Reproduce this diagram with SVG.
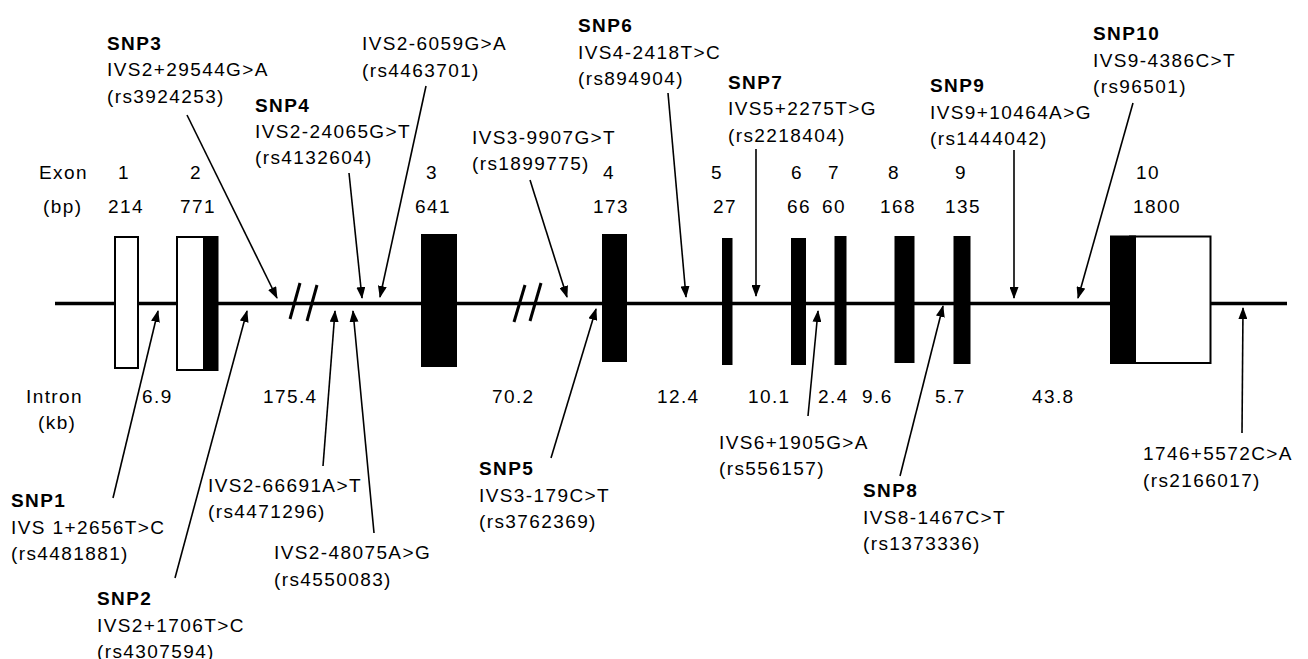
<svg xmlns="http://www.w3.org/2000/svg" width="1308" height="659" viewBox="0 0 1308 659">
<style>
text{font-family:"Liberation Sans",Arial,Helvetica,sans-serif;font-size:19px;letter-spacing:1.4px;fill:#000}
.b{font-weight:bold}
.m{text-anchor:middle}
.blk{fill:#000}
.wht{fill:#fff;stroke:#000;stroke-width:2}
.arr{stroke:#000;stroke-width:1.6;fill:none;marker-end:url(#ah)}
.brk{stroke:#000;stroke-width:3}
</style>
<defs>
<marker id="ah" viewBox="0 0 12 9" refX="11" refY="4.5" markerWidth="12" markerHeight="9" markerUnits="userSpaceOnUse" orient="auto">
<path d="M0,0 L12,4.5 L0,9 z" fill="#000"/>
</marker>
</defs>
<rect width="1308" height="659" fill="#fff"/>

<g id="gene-line">
<line x1="55" y1="303.5" x2="1287" y2="303.5" stroke="#000" stroke-width="3.5"/>
<line class="brk" x1="300" y1="283" x2="290" y2="319"/>
<line class="brk" x1="317" y1="285" x2="307" y2="321"/>
<line class="brk" x1="525" y1="285" x2="514" y2="322"/>
<line class="brk" x1="541" y1="283" x2="530" y2="321"/>
</g>

<g id="exon1"><rect class="wht" x="115" y="237" width="23" height="131"/></g>
<g id="exon2"><rect class="wht" x="177" y="237" width="27" height="133"/><rect class="blk" x="203" y="236" width="15.5" height="135"/></g>
<g id="exon3"><rect class="blk" x="421" y="234" width="36" height="133"/></g>
<g id="exon4"><rect class="blk" x="602" y="234" width="25" height="128"/></g>
<g id="exon5"><rect class="blk" x="722" y="238" width="10.5" height="127"/></g>
<g id="exon6"><rect class="blk" x="791" y="238" width="15" height="127"/></g>
<g id="exon7"><rect class="blk" x="834.5" y="236" width="12" height="129"/></g>
<g id="exon8"><rect class="blk" x="894.5" y="236" width="20" height="127"/></g>
<g id="exon9"><rect class="blk" x="953.5" y="236" width="17" height="128"/></g>
<g id="exon10"><rect class="wht" x="1130" y="236.5" width="80.5" height="126.5"/><rect class="blk" x="1110" y="235.5" width="26" height="128.5"/></g>

<g id="connectors">
<line class="arr" x1="187" y1="115" x2="277" y2="298"/>
<line class="arr" x1="349" y1="173" x2="362" y2="298"/>
<line class="arr" x1="426" y1="86" x2="380" y2="297"/>
<line class="arr" x1="530" y1="180" x2="567" y2="297"/>
<line class="arr" x1="668" y1="93" x2="686" y2="297"/>
<line class="arr" x1="756" y1="149" x2="756" y2="296"/>
<line class="arr" x1="1014" y1="150" x2="1014" y2="298"/>
<line class="arr" x1="1133" y1="103" x2="1078" y2="298"/>
<line class="arr" x1="113" y1="498" x2="158" y2="311"/>
<line class="arr" x1="175" y1="578" x2="247" y2="311"/>
<line class="arr" x1="323" y1="466" x2="335" y2="311"/>
<line class="arr" x1="374" y1="533" x2="353" y2="311"/>
<line class="arr" x1="551" y1="458" x2="596" y2="309"/>
<line class="arr" x1="808" y1="416" x2="818" y2="311"/>
<line class="arr" x1="900" y1="476" x2="943" y2="306"/>
<line class="arr" x1="1242" y1="433" x2="1243" y2="308"/>
</g>

<g id="exon-labels">
<text x="39" y="179">Exon</text>
<text class="m" x="124" y="179">1</text>
<text class="m" x="196" y="179">2</text>
<text class="m" x="432" y="179">3</text>
<text class="m" x="609" y="179">4</text>
<text class="m" x="717" y="179">5</text>
<text class="m" x="797" y="179">6</text>
<text class="m" x="834" y="179">7</text>
<text class="m" x="894" y="179">8</text>
<text class="m" x="961" y="179">9</text>
<text class="m" x="1148" y="179">10</text>
<text x="43" y="213">(bp)</text>
<text class="m" x="126" y="213">214</text>
<text class="m" x="198" y="213">771</text>
<text class="m" x="433" y="213">641</text>
<text class="m" x="611" y="213">173</text>
<text class="m" x="725" y="213">27</text>
<text class="m" x="799" y="213">66</text>
<text class="m" x="834" y="213">60</text>
<text class="m" x="898" y="213">168</text>
<text class="m" x="963" y="213">135</text>
<text class="m" x="1157" y="213">1800</text>
</g>

<g id="intron-labels">
<text x="26" y="403">Intron</text>
<text x="38" y="429">(kb)</text>
<text x="142" y="403">6.9</text>
<text x="263" y="403">175.4</text>
<text x="492" y="403">70.2</text>
<text x="657" y="403">12.4</text>
<text x="748" y="403">10.1</text>
<text x="818" y="403">2.4</text>
<text x="862" y="403">9.6</text>
<text x="935" y="403">5.7</text>
<text x="1032" y="403">43.8</text>
</g>

<g id="snp3"><text class="b" x="107" y="49.5">SNP3</text><text x="107" y="76">IVS2+29544G&gt;A</text><text x="107" y="102.5">(rs3924253)</text></g>
<g id="ivs2-6059"><text x="362" y="50">IVS2-6059G&gt;A</text><text x="362" y="76.5">(rs4463701)</text></g>
<g id="snp4"><text class="b" x="255" y="111.5">SNP4</text><text x="255" y="138">IVS2-24065G&gt;T</text><text x="255" y="164">(rs4132604)</text></g>
<g id="snp6"><text class="b" x="578" y="32">SNP6</text><text x="578" y="58.5">IVS4-2418T&gt;C</text><text x="578" y="85">(rs894904)</text></g>
<g id="snp7"><text class="b" x="728" y="88.5">SNP7</text><text x="728" y="115">IVS5+2275T&gt;G</text><text x="728" y="141.5">(rs2218404)</text></g>
<g id="ivs3-9907"><text x="472" y="143.5">IVS3-9907G&gt;T</text><text x="472" y="170">(rs1899775)</text></g>
<g id="snp9"><text class="b" x="930" y="92">SNP9</text><text x="930" y="118.5">IVS9+10464A&gt;G</text><text x="930" y="145">(rs1444042)</text></g>
<g id="snp10"><text class="b" x="1093" y="40">SNP10</text><text x="1093" y="66.5">IVS9-4386C&gt;T</text><text x="1093" y="93">(rs96501)</text></g>
<g id="snp1"><text class="b" x="11" y="507">SNP1</text><text x="11" y="533.5">IVS 1+2656T&gt;C</text><text x="11" y="560">(rs4481881)</text></g>
<g id="ivs2-66691"><text x="208" y="491.5">IVS2-66691A&gt;T</text><text x="208" y="518">(rs4471296)</text></g>
<g id="ivs2-48075"><text x="274" y="559">IVS2-48075A&gt;G</text><text x="274" y="585.5">(rs4550083)</text></g>
<g id="snp2"><text class="b" x="97" y="605">SNP2</text><text x="97" y="631.5">IVS2+1706T&gt;C</text><text x="97" y="657.5">(rs4307594)</text></g>
<g id="snp5"><text class="b" x="479" y="475">SNP5</text><text x="479" y="501.5">IVS3-179C&gt;T</text><text x="479" y="528">(rs3762369)</text></g>
<g id="ivs6-1905"><text x="719" y="448.5">IVS6+1905G&gt;A</text><text x="719" y="475">(rs556157)</text></g>
<g id="snp8"><text class="b" x="863" y="497">SNP8</text><text x="863" y="523.5">IVS8-1467C&gt;T</text><text x="863" y="550">(rs1373336)</text></g>
<g id="ivs-1746"><text x="1143" y="460">1746+5572C&gt;A</text><text x="1143" y="486.5">(rs2166017)</text></g>
</svg>
